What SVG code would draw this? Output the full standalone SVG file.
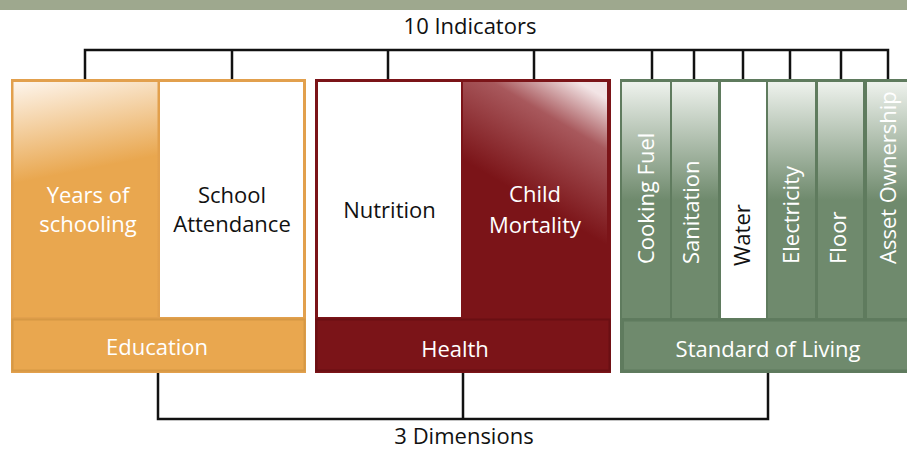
<svg xmlns="http://www.w3.org/2000/svg" width="907" height="450" viewBox="0 0 907 450">
<style>
text{font-family:"Open Sans","Liberation Sans",sans-serif;font-size:22px;}
.w{fill:#ffffff;}
.b{fill:#111111;}
.c{text-anchor:middle;}
.v{text-anchor:start;}
.line{fill:none;stroke:#111111;stroke-width:2.5;stroke-linecap:square;}
</style>
<defs>
<linearGradient id="gOr" x1="0.05" y1="0" x2="0.1" y2="0.42">
<stop offset="0" stop-color="#FDF4EA"/>
<stop offset="1" stop-color="#E9A74F"/>
</linearGradient>
<linearGradient id="gRd" x1="0.8" y1="0" x2="0.6" y2="0.55">
<stop offset="0" stop-color="#F2E4E5"/>
<stop offset="0.35" stop-color="#A8585C"/>
<stop offset="1" stop-color="#7B1418"/>
</linearGradient>
<linearGradient id="gGr" x1="0" y1="0" x2="0" y2="0.5">
<stop offset="0" stop-color="#EEF2ED"/>
<stop offset="1" stop-color="#6F8A6D"/>
</linearGradient>
</defs>
<rect x="0" y="0" width="907" height="10" fill="#9EA88E"/>
<text id="t-ind" class="b c" x="470" y="34">10 Indicators</text>
<g id="connectors">
<path class="line" d="M85,50 H888 M85,50 V79 M232,50 V79 M388,50 V79 M534,50 V79 M652,50 V79 M694,50 V79 M743,50 V79 M790,50 V79 M841,50 V79 M888,50 V79"/>
<path class="line" d="M158,373 V419 H768 V373 M463,373 V419"/>
</g>
<g id="education">
<rect x="11" y="79" width="295" height="294" fill="#E2A04D"/>
<rect x="13.5" y="82" width="144" height="235" fill="url(#gOr)"/>
<rect x="160" y="82" width="143" height="235" fill="#ffffff"/>
<rect x="12.5" y="319.5" width="292" height="51" fill="#E9A74F" stroke="#D69845" stroke-width="2"/>
<text class="w c" x="88" y="203">Years of</text>
<text class="w c" x="88" y="232">schooling</text>
<text class="b c" x="232" y="203">School</text>
<text class="b c" x="232" y="232">Attendance</text>
<text class="w c" x="157" y="355">Education</text>
</g>
<g id="health">
<rect x="315" y="79" width="296" height="294" fill="#7B1418"/>
<rect x="318" y="82" width="143" height="235" fill="#ffffff"/>
<rect x="463" y="82" width="144" height="235" fill="url(#gRd)"/>
<rect x="316.5" y="319.5" width="293" height="51" fill="#7B1418" stroke="#6A0F13" stroke-width="2"/>
<text class="b c" x="389.5" y="218">Nutrition</text>
<text class="w c" x="535" y="202">Child</text>
<text class="w c" x="535" y="233">Mortality</text>
<text class="w c" x="455" y="357">Health</text>
</g>
<g id="living">
<rect x="620" y="79" width="300" height="294" fill="#5F7B5E"/>
<rect x="622" y="82" width="48" height="236" fill="url(#gGr)"/>
<rect x="672" y="82" width="46" height="236" fill="url(#gGr)"/>
<rect x="721" y="82" width="45" height="236" fill="#ffffff"/>
<rect x="768" y="82" width="47" height="236" fill="url(#gGr)"/>
<rect x="818" y="82" width="45" height="236" fill="url(#gGr)"/>
<rect x="867" y="82" width="48" height="236" fill="url(#gGr)"/>
<rect x="623" y="320.5" width="295" height="50" fill="#6F8A6D" stroke="#5F7B5E" stroke-width="2"/>
<text class="w v" transform="translate(654,264) rotate(-90)">Cooking Fuel</text>
<text class="w v" transform="translate(699,264) rotate(-90)">Sanitation</text>
<text class="b v" transform="translate(750,266) rotate(-90)">Water</text>
<text class="w v" transform="translate(799,264) rotate(-90)">Electricity</text>
<text class="w v" transform="translate(846,264) rotate(-90)">Floor</text>
<text class="w v" transform="translate(896,264) rotate(-90)">Asset Ownership</text>
<text class="w c" x="768" y="357">Standard of Living</text>
</g>
<text id="t-dim" class="b c" x="464" y="444">3 Dimensions</text>
</svg>
